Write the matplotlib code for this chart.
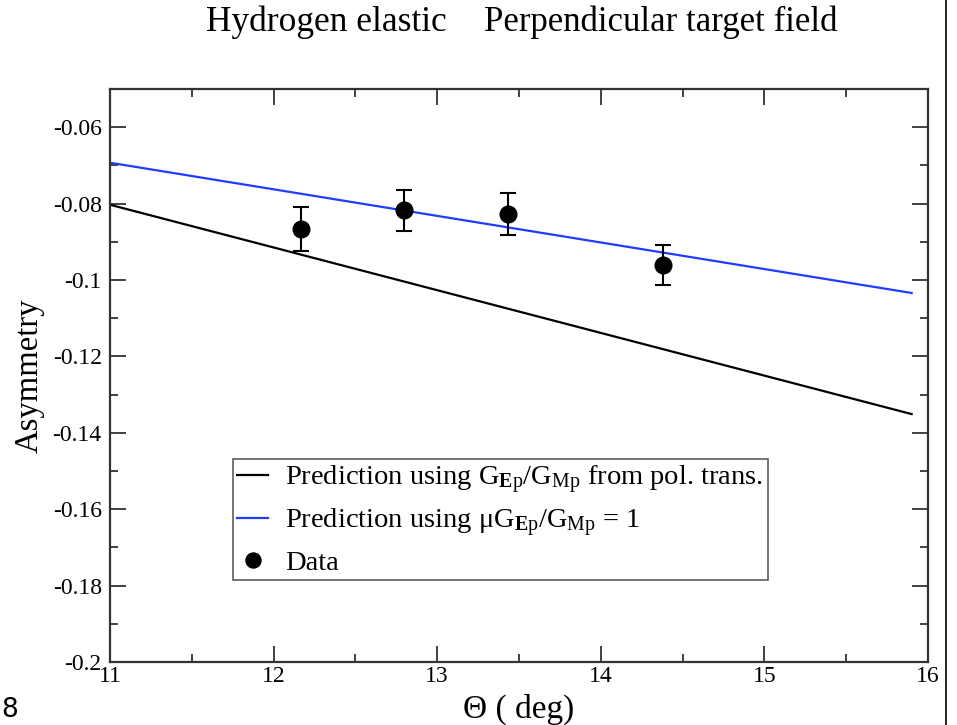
import matplotlib
matplotlib.use("Agg")
import matplotlib.pyplot as plt
import numpy as np

# ---- data ----
theta_data = [12.17, 12.80, 13.435, 14.38]
asym_data = [-0.0866, -0.0818, -0.0827, -0.0960]
asym_err = [0.0058, 0.0053, 0.0055, 0.0052]

theta_line = [11.0, 15.9]
asym_poltrans = [-0.0803, -0.1351]
asym_mu1 = [-0.0693, -0.1034]

xticks = [11, 12, 13, 14, 15, 16]
xticklabels = ["11", "12", "13", "14", "15", "16"]
yticks = [-0.2, -0.18, -0.16, -0.14, -0.12, -0.1, -0.08, -0.06]
yticklabels = ["-0.2", "-0.18", "-0.16", "-0.14", "-0.12", "-0.1", "-0.08", "-0.06"]

plt.rcParams['font.family'] = ['Liberation Serif', 'DejaVu Serif']
plt.rcParams['mathtext.fontset'] = 'custom'
plt.rcParams['mathtext.rm'] = 'Liberation Serif'
plt.rcParams['mathtext.it'] = 'Liberation Serif:italic'
plt.rcParams['mathtext.bf'] = 'Liberation Serif:bold'

W, H = 957, 725
fig = plt.figure(figsize=(W / 100, H / 100), dpi=100)
ax = fig.add_axes([110 / W, (H - 662) / H, 818 / W, 573 / H])

ax.plot(theta_line, asym_poltrans, color='black', lw=1.6,
        label=r'Prediction using G$_{\mathbf{E}\mathrm{p}}$/G$_{\mathrm{Mp}}$ from pol. trans.')
ax.plot(theta_line, asym_mu1, color='#1f3cff', lw=1.6,
        label=r'Prediction using μG$_{\mathbf{E}\mathrm{p}}$/G$_{\mathrm{Mp}}$ = 1')
ax.errorbar(theta_data, asym_data, yerr=asym_err, fmt='none', ecolor='black',
            elinewidth=1.5, capsize=5.6, capthick=1.5)
ax.plot(theta_data, asym_data, 'o', color='black', markersize=12, label='Data')

ax.set_xlim(11, 16)
ax.set_ylim(-0.2, -0.05)
ax.set_xticks(xticks)
ax.set_xticklabels(xticklabels)
ax.set_yticks(yticks)
ax.set_yticklabels(yticklabels)
ax.set_xticks(np.arange(11.5, 16, 1.0), minor=True)
ax.set_yticks(np.arange(-0.19, -0.05, 0.02), minor=True)

ax.tick_params(which='both', direction='in', top=True, right=True, width=1.3, color='#333333')
ax.tick_params(which='major', length=11.5)
ax.tick_params(which='minor', length=5.8)
ax.tick_params(axis='y', which='major', labelsize=17, pad=6)
ax.tick_params(axis='x', which='major', labelsize=17, pad=3)
for s in ax.spines.values():
    s.set_linewidth(1.6)
    s.set_color('#333333')

ax.set_xlabel('Θ ( deg)', fontsize=24, labelpad=5)
ax.set_ylabel('Asymmetry', fontsize=23.5, labelpad=6)

leg = ax.legend(loc='lower left', bbox_to_anchor=(0.150, 0.143), borderaxespad=0,
                fontsize=20.5, frameon=True, fancybox=False, numpoints=1,
                handlelength=1.1, handletextpad=0.6, labelspacing=0.38,
                borderpad=0.15, markerscale=0.9)
leg.get_frame().set_edgecolor('#333333')
leg.get_frame().set_linewidth(1.2)

fig.text(326 / W, 1 - 22 / H, 'Hydrogen elastic', fontsize=25.5, ha='center', va='center')
fig.text(661 / W, 1 - 22 / H, 'Perpendicular target field', fontsize=25, ha='center', va='center')

fig.add_artist(plt.Line2D([945.5 / W, 945.5 / W], [0, 1], color='black', lw=1.2,
                          transform=fig.transFigure))
fig.text(1 / W, 2 / H, '8', fontsize=19, family='DejaVu Sans', ha='left', va='bottom')

fig.savefig('out.png', dpi=100)
